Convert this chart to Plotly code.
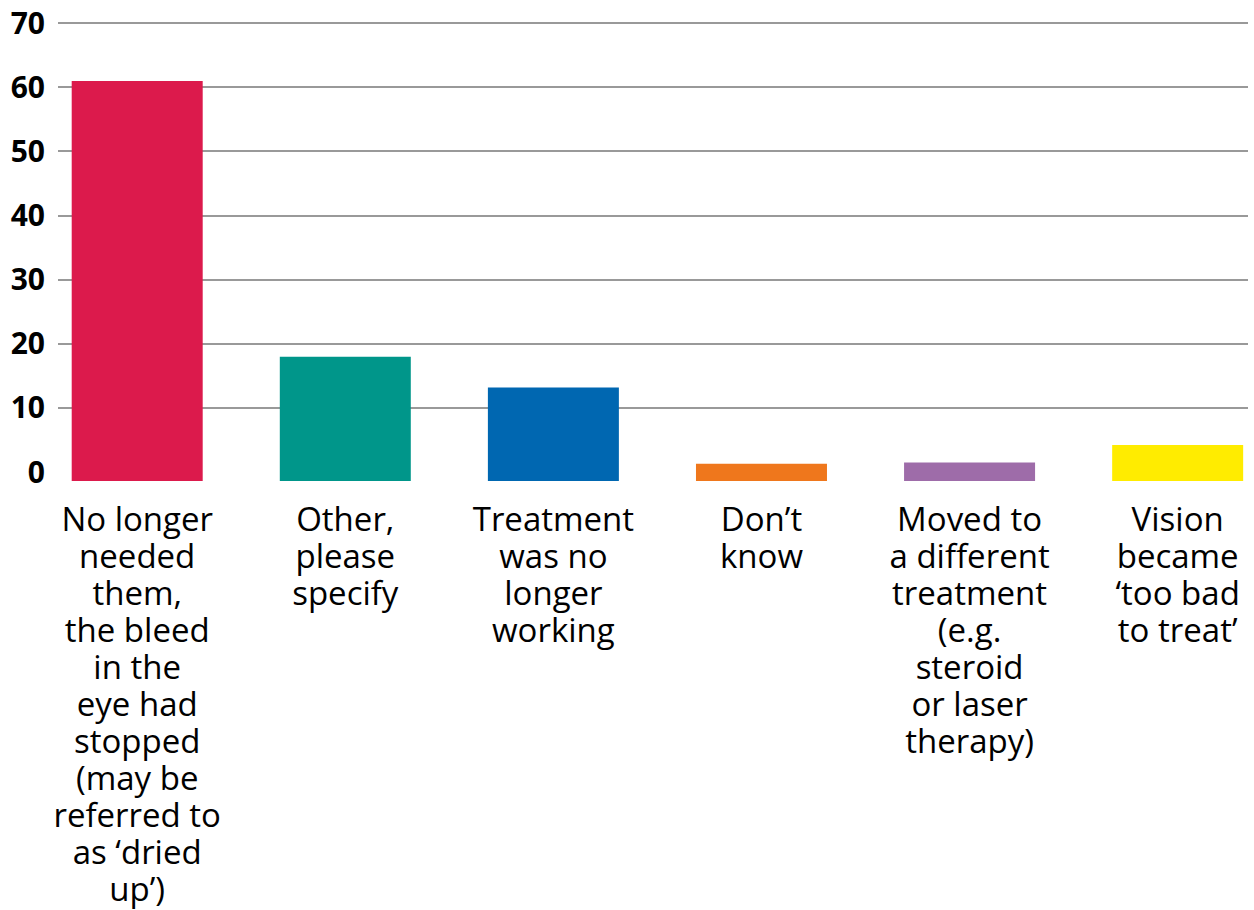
import plotly.graph_objects as go

categories = [
    "No longer<br>needed<br>them,<br>the bleed<br>in the<br>eye had<br>stopped<br>(may be<br>referred to<br>as ‘dried<br>up’)",
    "Other,<br>please<br>specify",
    "Treatment<br>was no<br>longer<br>working",
    "Don’t<br>know",
    "Moved to<br>a different<br>treatment<br>(e.g.<br>steroid<br>or laser<br>therapy)",
    "Vision<br>became<br>‘too bad<br>to treat’",
]
values = [61, 18, 13.2, 1.3, 1.5, 4.2]
colors = ["#DC1A4C", "#00968A", "#0067B1", "#EF771C", "#9E6CA9", "#FFEC00"]
y_ticks = [0, 10, 20, 30, 40, 50, 60, 70]

axis_floor = -1.4
y_top = 70.2
x_idx = list(range(len(categories)))


def big(label):
    return "<br>".join(f'<span style="font-size:33px">{ln}</span>' for ln in label.split("<br>"))


fig = go.Figure()
fig.add_trace(go.Bar(
    x=x_idx,
    y=[v - axis_floor for v in values],
    base=axis_floor,
    marker=dict(color=colors, line=dict(width=0)),
    width=0.6295,
    customdata=values,
    hovertemplate="%{customdata}<extra></extra>",
))
# invisible trace that carries the labelled value axis
fig.add_trace(go.Scatter(
    x=x_idx, y=values, yaxis="y2", mode="markers",
    marker=dict(opacity=0), hoverinfo="skip",
))

fig.update_layout(
    width=1254, height=910,
    margin=dict(l=58, r=6, t=22, b=429, autoexpand=False),
    plot_bgcolor="white", paper_bgcolor="white",
    showlegend=False,
    font=dict(family="Open Sans", color="#000000"),
    xaxis=dict(
        range=[-0.3806, 5.338], automargin=False,
        tickmode="array", tickvals=x_idx, ticktext=[big(c) for c in categories],
        tickfont=dict(size=28.5, family="Open Sans", color="#000"),
        showgrid=False, zeroline=False, showline=False, ticks="",
        tickangle=0, ticklabelstandoff=20,
    ),
    yaxis=dict(
        range=[axis_floor, y_top], automargin=False,
        tickmode="array", tickvals=[t for t in y_ticks if t != 0],
        showticklabels=False, showgrid=True, gridcolor="#999999", gridwidth=2,
        zeroline=False, showline=False, ticks="",
    ),
    yaxis2=dict(
        overlaying="y", side="left", range=[axis_floor, y_top], automargin=False,
        tickmode="array", tickvals=y_ticks, ticktext=[f"<b>{t}</b>" for t in y_ticks],
        tickfont=dict(size=30, family="Open Sans", color="#000"),
        showgrid=False, zeroline=False, showline=False, ticks="", ticklabelstandoff=12,
    ),
)
fig.write_html("out.html")
